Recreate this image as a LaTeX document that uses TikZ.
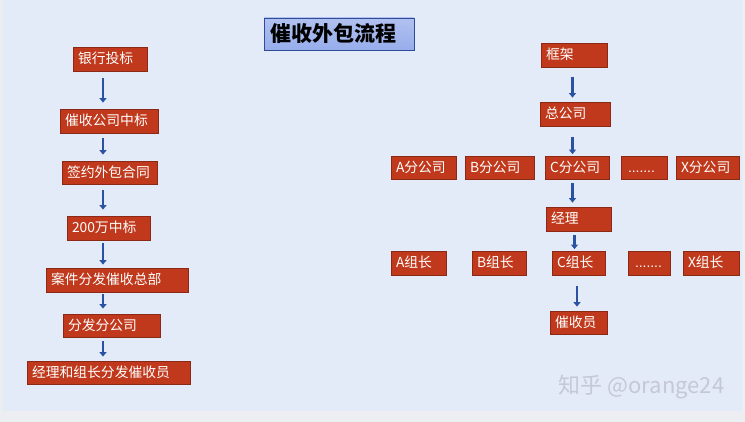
\documentclass[tikz,border=0pt]{standalone}
\usepackage{fontspec}
\usepackage{xcolor}
\usepackage{tikz}
\usetikzlibrary{arrows.meta,positioning}
\newfontfamily\cjk{Noto Sans CJK SC}
\newfontfamily\latinsans{Liberation Sans}

\definecolor{pagebg}{HTML}{E4EBF8}
\definecolor{framebg}{HTML}{EDEEF2}
\definecolor{boxred}{HTML}{C0391C}
\definecolor{boxline}{HTML}{8C2816}
\definecolor{arrowblue}{HTML}{2A52A2}
\definecolor{titlefill}{HTML}{97ADEB}
\definecolor{titleline}{HTML}{2E4C9A}
\definecolor{markgray}{HTML}{C4C9D3}

\begin{document}
\begin{tikzpicture}[x=1pt, y=-1pt,
    block/.style={rectangle, draw=boxline, fill=boxred, text=white, align=left,
      minimum height=24pt, inner xsep=5pt, inner ysep=0pt, line width=0.8pt,
      text height=11.5pt, text depth=2pt,
      font=\cjk\fontsize{13.8}{16}\selectfont},
    title/.style={rectangle, draw=titleline, top color=titlefill!75!white, bottom color=titlefill,
      align=left, minimum height=32pt, inner xsep=6pt, inner ysep=0pt, line width=0.8pt,
      font=\cjk\bfseries\fontsize{21}{24}\selectfont},
    arrow/.style={-{Triangle[width=7pt,length=4.5pt]}, line width=2.8pt, draw=arrowblue}]

    % background
    \fill[framebg] (0,0) rectangle (745,422);
    \fill[pagebg] (3,0) rectangle (742,411);
    \useasboundingbox (0,0) rectangle (745,422);

    \node[title, text width=138pt] (ttl) at (339,34) {催收外包流程};

    % left: process
    \node[block, text width=64pt] (bid) at (110,59) {银行投标};
    \node[block, text width=88pt] (win) at (109,121) {催收公司中标};
    \node[block, text width=85pt, minimum height=23pt] (sign) at (109.5,172.5) {签约外包合同};
    \node[block, text width=73pt] (mil) at (108.5,228) {200万中标};
    \node[block, text width=132pt] (hq) at (117,280) {案件分发催收总部};
    \node[block, text width=87pt, minimum height=23pt] (dist) at (111.5,325.5) {分发分公司};
    \node[block, text width=153pt, minimum height=23pt] (todo) at (108.5,372.5) {经理和组长分发催收员};

    \coordinate (lx) at (103,0);
    \draw[arrow, shorten <=7pt, shorten >=6pt] (bid.south -| lx) -- (win.north -| lx);
    \draw[arrow, shorten <=5pt, shorten >=6pt] (win.south -| lx) -- (sign.north -| lx);
    \draw[arrow, shorten <=6pt, shorten >=6pt] (sign.south -| lx) -- (mil.north -| lx);
    \draw[arrow, shorten <=3pt, shorten >=3pt] (mil.south -| lx) -- (hq.north -| lx);
    \draw[arrow, shorten <=2pt, shorten >=5pt] (hq.south -| lx) -- (dist.north -| lx);
    \draw[arrow, shorten <=4pt, shorten >=4pt] (dist.south -| lx) -- (todo.north -| lx);

    % right: structure
    \node[block, text width=56pt] (frame) at (574,55) {框架};
    \node[block, text width=60pt] (head) at (575,114) {总公司};

    \node[block, text width=55pt, minimum height=23pt] (brA) at (423.5,167.5) {A分公司};
    \node[block, text width=59pt, minimum height=23pt] (brB) at (499.5,167.5) {B分公司};
    \node[block, text width=54pt, minimum height=23pt] (brC) at (577,167.5) {C分公司};
    \node[block, text width=36pt, minimum height=23pt] (brD) at (644,167.5) {\hspace*{2pt}\latinsans .......};
    \node[block, text width=53pt, minimum height=23pt] (brX) at (707.5,167.5) {X分公司};

    \node[block, text width=55pt] (mgr) at (578.5,219) {经理};

    \node[block, text width=45pt] (grA) at (418.5,263) {A组长};
    \node[block, text width=44pt] (grB) at (499,263) {B组长};
    \node[block, text width=43pt] (grC) at (578.5,263) {C组长};
    \node[block, text width=32pt] (grD) at (649,263) {\hspace*{2pt}\latinsans .......};
    \node[block, text width=46pt] (grX) at (711,263) {X组长};

    \node[block, text width=47pt, minimum height=23pt] (staff) at (578.5,322.5) {催收员};

    \coordinate (rx) at (572.5,0);
    \coordinate (ry) at (574.5,0);
    \coordinate (rz) at (577,0);
    \draw[arrow, shorten <=10pt, shorten >=4pt] (frame.south -| rx) -- (head.north -| rx);
    \draw[arrow, shorten <=11pt, shorten >=1.5pt] (head.south -| rx) -- (brC.north -| rx);
    \draw[arrow, shorten <=4pt, shorten >=4pt] (brC.south -| rx) -- (mgr.north -| rx);
    \draw[arrow, shorten <=4pt, shorten >=1.5pt] (mgr.south -| ry) -- (grC.north -| ry);
    \draw[arrow, shorten <=11pt, shorten >=4pt] (grC.south -| rz) -- (staff.north -| rz);

    % watermark
    \node[text=markgray, font=\cjk\fontsize{22}{26}\selectfont, inner sep=0pt] (mark) at (641.5,387) {知乎 @orange24};

\end{tikzpicture}
\end{document}
